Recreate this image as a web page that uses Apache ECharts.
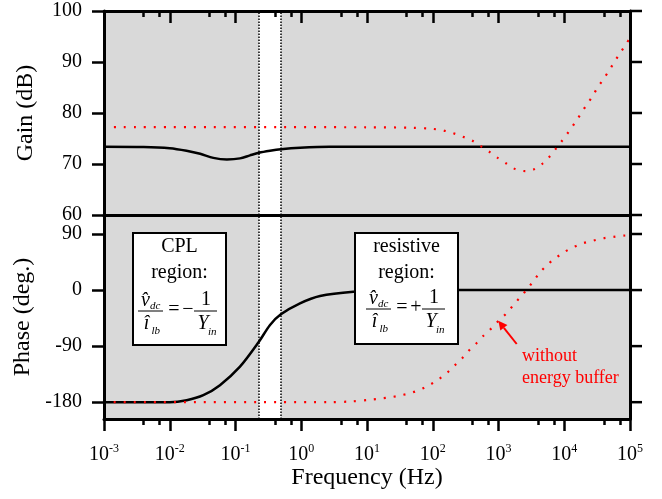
<!DOCTYPE html>
<html>
<head>
<meta charset="utf-8">
<script src="https://cdn.jsdelivr.net/npm/echarts@6/dist/echarts.min.js"></script>
<style>
  html, body { margin: 0; padding: 0; background: #fff; }
  #chart { width: 662px; height: 499px; }
</style>
</head>
<body>
<div id="chart"></div>
<script>
// x axis is log10(frequency), ticks at every decade
const decades = [-3, -2, -1, 0, 1, 2, 3, 4, 5];
const minorTickFactors = [4, 7];
const gainTicks = [60, 70, 80, 90, 100];
const phaseTicks = [-180, -90, 0, 90];

// white band between CPL and resistive region (Hz)
const bandHz = [0.227, 0.49];

// gain with energy buffer (black, solid)
const gainBlackHz = [0.001, 0.004, 0.01, 0.018, 0.029, 0.046, 0.074, 0.117, 0.166, 0.227, 0.335, 0.49, 0.96, 2.7, 100000];
const gainBlackDb = [73.4, 73.35, 73.1, 72.6, 72.0, 71.2, 70.9, 71.1, 71.7, 72.2, 72.6, 72.9, 73.2, 73.4, 73.4];

// gain without energy buffer (red, dotted)
const gainRedHz = [0.001, 10, 50, 97.5, 142, 198, 281, 395, 536, 724, 972, 1315, 1803, 2594, 3540, 4699, 6124, 7670, 9570, 11800, 14560, 17780, 21630, 26690, 31770, 39260, 47860, 58480, 71120, 86900, 100000];
const gainRedDb = [77.25, 77.2, 77.1, 76.9, 76.6, 76.1, 75.4, 74.6, 73.5, 72.4, 71.2, 70.1, 69.0, 68.6, 69.0, 70.1, 71.6, 73.2, 74.8, 76.4, 78.1, 79.8, 81.5, 83.2, 84.9, 86.6, 88.3, 90.1, 91.8, 93.5, 94.7];

// phase with energy buffer (black, solid)
const phaseBlackHz = [0.001, 0.01, 0.0181, 0.0324, 0.058, 0.117, 0.227, 0.335, 0.49, 0.957, 1.93, 6.2, 20, 100, 100000];
const phaseBlackDeg = [-180, -180, -176.8, -168.8, -152.7, -123, -83, -56, -39, -21.4, -9.6, -2.7, -0.8, 0, 0];

// phase without energy buffer (red, dotted)
const phaseRedHz = [0.001, 2.7, 5.7, 11.3, 16.3, 23.4, 33.3, 47.2, 67, 91.8, 124, 165, 213, 281, 352, 459, 596, 796, 1028, 1346, 1702, 2148, 2742, 3428, 4276, 5521, 7311, 9908, 13580, 19090, 27100, 38460, 55110, 79070, 100000];
const phaseRedDeg = [-180, -180, -178.8, -176, -174, -172, -168.8, -165, -159, -151.6, -143, -132.9, -121.6, -109.3, -97.5, -85.7, -72.9, -60.5, -48.2, -36.4, -23.6, -11.3, 1.6, 15, 28.4, 40.7, 50.9, 60.6, 68.6, 75, 79.2, 83, 85.2, 87.3, 88];

const serif = 'Liberation Serif';
const black = '#000';
const red = '#ff0000';

const toPoints = (hz, vals) => hz.map((f, i) => [Math.log10(f), vals[i]]);
const bandLo = Math.log10(bandHz[0]);
const bandHi = Math.log10(bandHz[1]);

const minorTicks = [];
decades.slice(0, -1).forEach(d => minorTickFactors.forEach(m => minorTicks.push(d + Math.log10(m))));

const chart = echarts.init(document.getElementById('chart'), null, { renderer: 'canvas' });

const plotLeft = 104;
const plotWidth = 526;

const lineStyleAxis = () => ({ color: black, width: 3 });
const tickStyle = () => ({ color: black, width: 2.5 });
const axisLineOn = () => ({ show: true, onZero: false, lineStyle: lineStyleAxis() });
const axisLineOff = () => ({ show: false, onZero: false });

function xAxisOf(grid, pos, extra) {
  return Object.assign({
    type: 'value', min: -3, max: 5, interval: 1, z: 10,
    gridIndex: grid, position: pos,
    splitLine: { show: false },
    axisLine: axisLineOff(),
    axisTick: { show: false },
    axisLabel: { show: false }
  }, extra || {});
}

function yAxisOf(grid, min, max, extra) {
  return Object.assign({
    type: 'value', z: 10, gridIndex: grid, position: 'left', min, max,
    splitLine: { show: false },
    axisLine: axisLineOn(),
    axisTick: { show: true, inside: false, length: 12, lineStyle: tickStyle() },
    axisLabel: { show: false }
  }, extra || {});
}

// right-hand frame line; its outward ticks are added after layout
function rightAxisOf(grid, min, max, extra) {
  return yAxisOf(grid, min, max, Object.assign({
    offset: -plotWidth,
    axisTick: { show: false }
  }, extra || {}));
}

const yLabel = { show: true, margin: 22, color: black, fontFamily: serif, fontSize: 20 };
const yName = { color: black, fontFamily: serif, fontSize: 24 };

function bandSeries(xi, yi) {
  return {
    type: 'line', xAxisIndex: xi, yAxisIndex: yi, data: [], z: 1, silent: true,
    markArea: {
      silent: true,
      itemStyle: { color: '#fff' },
      data: [[{ xAxis: bandLo }, { xAxis: bandHi }]]
    },
    markLine: {
      silent: true, symbol: 'none', label: { show: false },
      lineStyle: { color: black, type: [1.5, 1.5], width: 1.5 },
      data: [{ xAxis: bandLo }, { xAxis: bandHi }]
    }
  };
}

function solid(xi, yi, data) {
  return {
    type: 'line', xAxisIndex: xi, yAxisIndex: yi, data, z: 3,
    showSymbol: false, smooth: 0.3, silent: true,
    lineStyle: { color: black, width: 2.5 }
  };
}

function dotted(xi, yi, data) {
  return {
    type: 'line', xAxisIndex: xi, yAxisIndex: yi, data, z: 4,
    showSymbol: false, smooth: 0.3, silent: true,
    lineStyle: { color: red, width: 2.2, type: [2, 8], cap: 'butt' }
  };
}

// text boxes with the admittance relation
function fractionBox(bx, by, bw, bh, line1, line2, fx, fy, sign) {
  const t = (x, y, s, size, extra) => ({
    type: 'text', x, y, z: 100,
    style: Object.assign({
      text: s, fontFamily: serif, fontSize: size, fill: black,
      align: 'center', verticalAlign: 'middle'
    }, extra || {})
  });
  const bar = (x1, x2, y) => ({
    type: 'line', z: 100, shape: { x1, y1: y, x2, y2: y },
    style: { stroke: black, lineWidth: 1 }
  });
  const it = { fontStyle: 'italic' };
  const sub = { fontStyle: 'italic', align: 'left' };
  return [
    { type: 'rect', z: 99, shape: { x: bx, y: by, width: bw, height: bh },
      style: { fill: '#fff', stroke: black, lineWidth: 2 } },
    t(bx + bw / 2, by + 14, line1, 20),
    t(bx + bw / 2, by + 40, line2, 20),
    bar(fx, fx + 25, fy),
    t(fx + 7.5, fy - 10, 'v\u0302', 20, it),
    t(fx + 12, fy - 5, 'dc', 11, sub),
    t(fx + 8.5, fy + 13, '\u00ee', 20, it),
    t(fx + 13.5, fy + 20, 'lb', 11, sub),
    t(fx + 36, fy - 1, '=', 20),
    t(fx + 50, fy - 1, sign, 20),
    t(fx + 68, fy - 11, '1', 20),
    bar(fx + 56, fx + 79, fy),
    t(fx + 65, fy + 13, 'Y', 20, it),
    t(fx + 70, fy + 21, 'in', 11, sub)
  ];
}

// arrow pointing at the red phase curve
const arrowTail = [516.7, 344];
const arrowTip = [498.3, 320.7];
const adx = arrowTip[0] - arrowTail[0];
const ady = arrowTip[1] - arrowTail[1];
const alen = Math.hypot(adx, ady);
const ux = adx / alen, uy = ady / alen;
const headLen = 9, headW = 4.5;
const baseC = [arrowTip[0] - ux * headLen, arrowTip[1] - uy * headLen];
const arrowHead = [
  arrowTip,
  [baseC[0] - uy * headW, baseC[1] + ux * headW],
  [baseC[0] + uy * headW, baseC[1] - ux * headW]
];

const graphics = [].concat(
  fractionBox(133, 233, 93, 112, 'CPL', 'region:', 138, 311, '\u2212'),
  fractionBox(355, 233, 103, 111, 'resistive', 'region:', 366, 309, '+'),
  [
    { type: 'line', z: 100, shape: { x1: arrowTail[0], y1: arrowTail[1], x2: baseC[0], y2: baseC[1] },
      style: { stroke: red, lineWidth: 2 } },
    { type: 'polygon', z: 100, shape: { points: arrowHead }, style: { fill: red } },
    { type: 'text', z: 100, x: 522, y: 356,
      style: { text: 'without', fontFamily: serif, fontSize: 18, fill: red, verticalAlign: 'middle' } },
    { type: 'text', z: 100, x: 522, y: 378,
      style: { text: 'energy buffer', fontFamily: serif, fontSize: 18, fill: red, verticalAlign: 'middle' } }
  ]
);

const gridBase = {
  left: plotLeft, width: plotWidth, height: 204, show: true,
  backgroundColor: '#d9d9d9', borderWidth: 0,
  containLabel: false, outerBoundsMode: 'none'
};

const option = {
  animation: false,
  backgroundColor: '#fff',
  grid: [
    Object.assign({}, gridBase, { top: 11 }),
    Object.assign({}, gridBase, { top: 215 })
  ],
  xAxis: [
    xAxisOf(0, 'bottom', { axisLine: axisLineOn() }),
    xAxisOf(0, 'top', { axisLine: axisLineOn(),
      axisTick: { show: true, inside: true, length: 12, lineStyle: tickStyle() } }),
    xAxisOf(0, 'top', {
      axisTick: { show: true, inside: true, length: 6, customValues: minorTicks, lineStyle: tickStyle() } }),
    xAxisOf(1, 'bottom', {
      axisLine: axisLineOn(),
      axisTick: { show: true, inside: false, length: 12, lineStyle: tickStyle() },
      axisLabel: {
        show: true, margin: 24,
        formatter: v => '{b|10}{s|' + v + '}',
        rich: {
          b: { fontFamily: serif, fontSize: 20, color: black, lineHeight: 22, verticalAlign: 'bottom' },
          s: { fontFamily: serif, fontSize: 12, color: black, lineHeight: 12, verticalAlign: 'top' }
        }
      },
      name: 'Frequency (Hz)', nameLocation: 'middle', nameGap: 47,
      nameTextStyle: { color: black, fontFamily: serif, fontSize: 24 }
    }),
    xAxisOf(1, 'bottom', {
      axisTick: { show: true, inside: false, length: 6, customValues: minorTicks, lineStyle: tickStyle() } }),
    xAxisOf(1, 'top', { axisLine: axisLineOn() })
  ],
  yAxis: [
    yAxisOf(0, gainTicks[0], gainTicks[gainTicks.length - 1], {
      interval: 10, axisLabel: yLabel,
      name: 'Gain (dB)', nameLocation: 'middle', nameGap: 66, nameTextStyle: yName
    }),
    rightAxisOf(0, gainTicks[0], gainTicks[gainTicks.length - 1], { interval: 10 }),
    yAxisOf(1, -207, 120.5, {
      axisTick: { show: true, inside: false, length: 12, lineStyle: tickStyle(), customValues: phaseTicks },
      axisLabel: Object.assign({}, yLabel, { customValues: phaseTicks }),
      name: 'Phase (deg.)', nameLocation: 'middle', nameGap: 66, nameTextStyle: yName
    }),
    rightAxisOf(1, -207, 120.5)
  ],
  series: [
    bandSeries(0, 0),
    bandSeries(3, 2),
    solid(0, 0, toPoints(gainBlackHz, gainBlackDb)),
    dotted(0, 0, toPoints(gainRedHz, gainRedDb)),
    solid(3, 2, toPoints(phaseBlackHz, phaseBlackDeg)),
    dotted(3, 2, toPoints(phaseRedHz, phaseRedDeg))
  ]
};

chart.setOption(option);

// outward ticks on the right frame, placed through the axis scales
const rightTicks = [];
const rightX = chart.convertToPixel({ xAxisIndex: 0 }, decades[decades.length - 1]);
const addRightTicks = (axisIndex, values) => values.forEach(v => {
  const y = chart.convertToPixel({ yAxisIndex: axisIndex }, v);
  rightTicks.push({
    type: 'line', z: 100, shape: { x1: rightX, y1: y, x2: rightX + 12, y2: y },
    style: { stroke: black, lineWidth: 2.5 }
  });
});
addRightTicks(0, gainTicks);
addRightTicks(2, phaseTicks);

chart.setOption({ graphic: { elements: graphics.concat(rightTicks) } });
</script>
</body>
</html>
